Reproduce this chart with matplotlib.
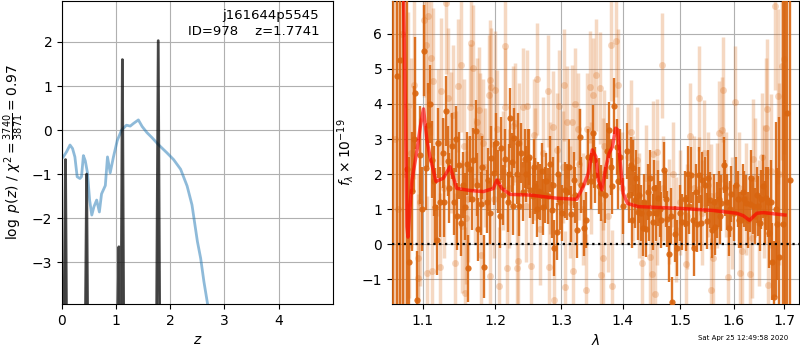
import numpy as np
import matplotlib
matplotlib.use('Agg')
import matplotlib.pyplot as plt
from matplotlib.ticker import FixedLocator, FixedFormatter, NullLocator

# --- p(z) panel ---
chi_z = [0.025, 0.086, 0.148, 0.195, 0.238, 0.28, 0.33, 0.36, 0.395, 0.43,
         0.47, 0.51, 0.55, 0.59, 0.64, 0.69, 0.73, 0.80, 0.84, 0.89,
         0.95, 1.02, 1.10, 1.19, 1.26, 1.32, 1.41, 1.48, 1.57, 1.66,
         1.78, 1.94, 2.06, 2.19, 2.31, 2.40, 2.50, 2.56, 2.62, 2.68, 2.72]
chi_val = [-0.61, -0.49, -0.34, -0.42, -0.61, -1.06, -1.10, -1.06, -0.58, -0.70,
           -0.97, -1.59, -1.93, -1.74, -1.59, -1.86, -1.45, -1.26, -0.61, -0.97,
           -0.61, -0.24, 0.0, 0.11, 0.09, 0.15, 0.23, 0.08, -0.06, -0.17,
           -0.33, -0.52, -0.67, -0.89, -1.27, -1.70, -2.53, -2.91, -3.44, -3.89, -4.2]

pz_z = [0.0, 0.035, 0.065, 0.085, 0.43, 0.455, 0.475, 1.025, 1.05, 1.07,
        1.09, 1.115, 1.14, 1.745, 1.777, 1.805]
pz_logp = [-3.9, -4.6, -0.67, -4.6, -4.6, -1.0, -4.6, -4.6, -2.65, -4.6,
           -4.6, 1.6, -4.6, -4.6, 2.03, -4.6]

# --- spectrum panel: model ---
model_wave = [1.0745, 1.0771, 1.0793, 1.0806, 1.0830, 1.0859, 1.0925, 1.0968, 1.1010, 1.1055,
              1.1096, 1.1177, 1.1276, 1.1367, 1.1460, 1.1646, 1.1834, 1.1978, 1.2027, 1.2099,
              1.2221, 1.2520, 1.2928, 1.3243, 1.3350, 1.3430, 1.3495, 1.3551, 1.3593, 1.3651,
              1.3717, 1.3773, 1.3825, 1.3879, 1.3915, 1.3951, 1.4005, 1.4080, 1.4264, 1.4997,
              1.5614, 1.6061, 1.6189, 1.6307, 1.6453, 1.6580, 1.7023]
model_flux = [7.5, 4.1, 0.5, 0.2, 1.0, 1.84, 2.69, 3.36, 3.86, 2.98,
              2.50, 1.79, 1.88, 2.21, 1.59, 1.53, 1.50, 1.59, 1.83, 1.59,
              1.42, 1.40, 1.31, 1.28, 1.65, 2.03, 2.69, 2.50, 1.83, 1.55,
              2.20, 2.60, 2.78, 3.31, 3.26, 2.41, 1.45, 1.16, 1.07, 1.02,
              0.96, 0.88, 0.81, 0.68, 0.88, 0.90, 0.83]

# --- combined (dark) spectrum ---
dark_wave = [1.0617, 1.0661, 1.0703, 1.0746, 1.0790, 1.0820, 1.0859, 1.0902, 1.0925, 1.0960,
             1.1014, 1.1041, 1.1073, 1.1119, 1.1166, 1.1184, 1.1235, 1.1267, 1.1308, 1.1336,
             1.1360, 1.1429, 1.1465, 1.1498, 1.1544, 1.1576, 1.1617, 1.1645, 1.1692, 1.1723,
             1.1761, 1.1797, 1.1838, 1.1880, 1.1907, 1.1949, 1.1986, 1.2041, 1.2071, 1.2090,
             1.2150, 1.2191, 1.2225, 1.2251, 1.2285, 1.2320, 1.2360, 1.2390, 1.2440, 1.2485,
             1.2525, 1.2560, 1.2600, 1.2641, 1.2675, 1.2716, 1.2765, 1.2800, 1.2851, 1.2890,
             1.2930, 1.2975, 1.3054, 1.3092, 1.3157, 1.3197, 1.3246, 1.3289, 1.3366, 1.3427,
             1.3502, 1.3546, 1.3600, 1.3640, 1.3694, 1.3732, 1.3776, 1.3825, 1.3858, 1.3895,
             1.3951, 1.4062, 1.4131, 1.4178, 1.4207, 1.4252, 1.4303, 1.4350, 1.4390, 1.4431,
             1.4471, 1.4510, 1.4562, 1.4614, 1.4666, 1.4717, 1.4759, 1.4803, 1.4862, 1.4941,
             1.5043, 1.5104, 1.5149, 1.5198, 1.5261, 1.5310, 1.5354, 1.5410, 1.5453, 1.5496,
             1.5547, 1.5597, 1.5640, 1.5683, 1.5720, 1.5765, 1.5813, 1.5869, 1.5907, 1.5951,
             1.6014, 1.6080, 1.6149, 1.6201, 1.6249, 1.6316, 1.6370, 1.6416, 1.6483, 1.6537,
             1.6583, 1.6638, 1.6704, 1.6753, 1.6799, 1.6853, 1.6905, 1.6974, 1.7020, 1.7071,
             1.7129,
             1.0880, 1.0990, 1.1095, 1.1145, 1.1210, 1.1290, 1.1395, 1.1450, 1.1520, 1.1600,
             1.1670, 1.1740, 1.1820, 1.1930, 1.2015, 1.2120, 1.2205, 1.2270, 1.2340, 1.2415,
             1.2460, 1.2505, 1.2580, 1.2620, 1.2700, 1.2740, 1.2825, 1.2870, 1.2950, 1.3010,
             1.3120, 1.3220, 1.3310, 1.3390, 1.3470, 1.3525, 1.3800, 1.3920, 1.4000, 1.4100,
             1.4160, 1.4230, 1.4280, 1.4370, 1.4450, 1.4540, 1.4640, 1.4740, 1.4830, 1.4900,
             1.4990, 1.5080, 1.5170, 1.5230, 1.5290, 1.5380, 1.5520, 1.5620, 1.5740, 1.5840,
             1.5930, 1.6050, 1.6110, 1.6180, 1.6280, 1.6340, 1.6450, 1.6510, 1.6610, 1.6670,
             1.6730, 1.6830]
dark_flux = [7.5, 4.81, 5.27, 9.0, 2.15, -0.5, 1.51, 4.31, -1.59, 2.55,
             5.52, 2.17, 3.41, 2.41, 1.07, 0.12, 1.19, 2.60, 3.79, 2.36,
             1.59, 1.21, 0.79, 2.25, 1.69, 1.07, -0.69, 2.14, 2.41, 3.22,
             0.43, 1.15, -0.64, 1.21, 1.84, 2.47, 2.02, 1.79, 0.79, 2.74,
             2.43, 1.21, 3.60, 2.33, 3.03, 2.00, 1.09, 2.60, 2.44, 2.43,
             1.55, 1.36, 1.67, 1.53, 1.50, 1.05, 1.79, 1.38, 0.98, -0.12,
             0.36, 1.21, 1.55, 1.48, 0.87, 1.84, 0.40, 3.07, 0.45, 2.50,
             3.17, 1.98, 1.65, 1.45, 1.41, 2.65, 3.27, 1.67, 3.93, 2.78,
             2.50, 2.65, 2.26, 2.17, 1.26, 0.93, 0.88, 0.45, 0.43, 1.50,
             1.88, 0.64, 0.88, 1.31, 0.69, 2.12, 0.71, -0.28, -1.64, -0.12,
             0.64, 0.61, 2.00, 1.98, -0.12, 0.57, 1.98, 1.84, 1.69, 0.67,
             1.26, 0.40, 0.50, 0.98, 1.28, 1.17, 2.26, 1.19, 0.45, 1.43,
             0.88, 1.28, 0.69, 1.28, 1.17, 1.15, 1.09, 0.79, 1.09, 1.28,
             1.65, 1.31, 0.31, -0.50, -1.50, 0.57, -0.37, 0.57, -2.00, 3.74,
             1.84,
             3.0, 1.0, 4.0, 1.8, 2.9, 1.2, 2.8, 3.0, 0.6, 2.3,
             1.3, 1.7, 2.2, 0.9, 2.9, 1.4, 2.0, 1.1, 2.9, 1.5,
             2.0, 2.5, 2.2, 1.0, 2.1, 1.4, 2.3, 1.7, 2.0, 0.9,
             2.2, 1.4, 1.7, 0.7, 1.8, 2.4, 2.2, 1.8, 1.1, 1.4,
             0.7, 1.9, 1.4, 1.2, 0.9, 1.6, 1.0, 1.3, 0.8, 0.3,
             0.9, 1.3, 1.1, 0.7, 1.5, 0.6, 1.9, 1.2, 0.8, 1.6,
             1.0, 1.7, 0.7, 1.5, 0.7, 1.9, 1.4, 0.6, 0.9, 1.2,
             1.2, 1.0]
dark_err = [15, 15, 15, 15, 6.0, 3.0, 1.7, 1.6, 1.4, 1.4,
            1.3, 1.2, 1.2, 1.1, 1.1, 1.0, 1.0, 1.0, 1.0, 1.0,
            1.0, 0.95, 0.95, 0.95, 0.95, 0.95, 0.95, 0.95, 0.9, 0.9,
            0.9, 0.9, 0.9, 0.9, 0.9, 0.9, 0.9, 0.9, 0.9, 0.9,
            0.85, 0.85, 0.85, 0.85, 0.85, 0.85, 0.85, 0.85, 0.85, 0.85,
            0.8, 0.8, 0.8, 0.8, 0.8, 0.8, 0.8, 0.8, 0.8, 0.8,
            0.8, 0.8, 0.8, 0.8, 0.8, 0.8, 0.8, 0.8, 0.8, 0.8,
            0.8, 0.8, 0.8, 0.8, 0.8, 0.8, 0.8, 0.8, 0.8, 0.8,
            0.8, 0.8, 0.8, 0.8, 0.8, 0.8, 0.8, 0.8, 0.8, 0.8,
            0.8, 0.8, 0.8, 0.8, 0.8, 0.8, 0.8, 0.8, 0.7, 0.8,
            0.8, 0.8, 0.8, 0.8, 0.8, 0.8, 0.8, 0.8, 0.8, 0.8,
            0.8, 0.8, 0.8, 0.8, 0.8, 0.8, 0.8, 0.8, 0.8, 0.8,
            0.8, 0.8, 0.8, 0.8, 0.8, 0.8, 0.8, 0.8, 0.85, 0.85,
            0.9, 0.9, 1.0, 1.1, 1.6, 1.6, 4.0, 8.0, 15, 15,
            15,
            1.5, 1.2, 1.1, 1.0, 1.0, 1.0, 0.95, 0.95, 0.95, 0.9,
            0.9, 0.9, 0.9, 0.9, 0.85, 0.85, 0.85, 0.85, 0.85, 0.85,
            0.8, 0.8, 0.8, 0.8, 0.8, 0.8, 0.8, 0.8, 0.8, 0.8,
            0.8, 0.8, 0.8, 0.8, 0.8, 0.8, 0.8, 0.8, 0.8, 0.8,
            0.8, 0.8, 0.8, 0.8, 0.8, 0.8, 0.8, 0.8, 0.8, 0.8,
            0.8, 0.8, 0.8, 0.8, 0.8, 0.8, 0.8, 0.8, 0.8, 0.8,
            0.8, 0.8, 0.8, 0.8, 0.8, 0.8, 0.8, 0.8, 0.9, 1.0,
            1.2, 2.5]

# --- individual beam (light) spectrum ---
light_wave = [1.0639, 1.0681, 1.0725, 1.0768,
              1.0802, 1.0823, 1.0850, 1.0881, 1.0934, 1.0938, 1.0970, 1.1014, 1.1041, 1.1059,
              1.1069, 1.1105, 1.1119, 1.1138, 1.1210, 1.1230, 1.1243, 1.1280, 1.1313, 1.1346,
              1.1380, 1.1409, 1.1443, 1.1450, 1.1479, 1.1520, 1.1530, 1.1560, 1.1581, 1.1589,
              1.1620, 1.1650, 1.1658, 1.1682, 1.1710, 1.1737, 1.1765, 1.1788, 1.1797, 1.1830,
              1.1860, 1.1913, 1.1924, 1.1935, 1.1949, 1.1980, 1.2000, 1.2026, 1.2060, 1.2110,
              1.2140, 1.2147, 1.2176, 1.2210, 1.2260, 1.2300, 1.2326, 1.2341, 1.2360, 1.2410,
              1.2460, 1.2476, 1.2536, 1.2585, 1.2590, 1.2620, 1.2675, 1.2710, 1.2785, 1.2815,
              1.2830, 1.2875, 1.2890, 1.2930, 1.2960, 1.3020, 1.3043, 1.3051, 1.3082, 1.3130,
              1.3174, 1.3190, 1.3218, 1.3262, 1.3280, 1.3350, 1.3394, 1.3410, 1.3464, 1.3470,
              1.3502, 1.3558, 1.3623, 1.3631, 1.3670, 1.3677, 1.3686, 1.3750, 1.3804, 1.3813,
              1.3879, 1.3912, 1.3980, 1.4090, 1.4138, 1.4180, 1.4234, 1.4280, 1.4321, 1.4400,
              1.4465, 1.4505, 1.4522, 1.4552, 1.4580, 1.4596, 1.4683, 1.4700, 1.4793, 1.4880,
              1.4924, 1.5000, 1.5104, 1.5130, 1.5187, 1.5250, 1.5341, 1.5354, 1.5400, 1.5435,
              1.5520, 1.5560, 1.5566, 1.5609, 1.5680, 1.5720, 1.5784, 1.5795, 1.5850, 1.5888,
              1.5970, 1.6034, 1.6100, 1.6129, 1.6169, 1.6230, 1.6316, 1.6350, 1.6370, 1.6420,
              1.6500, 1.6551, 1.6600, 1.6632, 1.6652, 1.6678, 1.6733, 1.6820, 1.6886, 1.6900,
              1.6966, 1.7000]
light_flux = [3.0, 1.0, 6.0, 2.0,
              3.93, 1.17, 2.60, 4.55, -0.40, -0.97, 1.20, 6.39, 5.69, -0.83,
              6.52, 5.31, -0.78, 4.65, 2.90, -0.64, 4.36, 1.60, 6.87, 4.17,
              2.90, 3.69, -0.55, 1.90, 4.52, 5.11, 0.51, 2.80, -1.40, 0.75,
              1.30, 3.91, 5.74, 5.03, 1.80, 3.50, 3.83, 3.09, -0.31, 2.90,
              2.20, 4.27, -0.90, 4.69, 4.48, 1.30, 4.39, 3.28, -1.21, 2.10,
              5.66, 3.91, -0.69, 1.60, 3.38, 3.47, -0.69, -0.47, 2.90, 3.91,
              1.10, 3.95, -0.62, 3.12, 2.30, 4.71, 0.43, 2.60, 4.36, -0.64,
              1.90, 3.34, -1.59, 2.70, 3.93, 2.20, 4.55, -1.23, 3.48, 1.20,
              3.50, -0.78, 4.01, 3.28, 2.30, 1.00, -1.32, 3.28, 4.48, 1.90,
              4.27, 4.84, 4.46, -0.88, 2.00, -0.40, 2.81, 0.80, 5.69, -1.19,
              5.79, 4.55, 1.60, 2.50, 3.19, 1.60, 2.41, 1.10, -0.55, 1.90,
              -0.36, -0.85, 2.58, -1.42, 0.90, 2.64, 5.11, 1.60, 0.93, 2.00,
              0.41, 1.20, -0.57, 0.80, 3.09, 1.60, 4.17, 1.57, 0.90, 2.60,
              1.70, -1.32, 1.36, -0.40, 1.40, 3.17, 3.26, 4.41, 1.70, -0.93,
              0.90, 4.05, 1.60, -0.83, -0.21, 1.30, -0.85, 0.17, 2.43, 1.90,
              0.60, 2.50, 1.50, 3.31, 3.86, -1.16, 2.08, 6.79, 4.22, 2.00,
              5.09, 5.28]
light_err = [12, 12, 12, 12,
             2.7, 2.7, 2.7, 2.7, 2.4, 2.4, 2.4, 2.2, 2.2, 2.2,
             2.2, 2.2, 2.1, 2.1, 2.1, 2.1, 2.1, 2.0, 2.0, 2.0,
             2.0, 2.0, 2.0, 1.9, 1.9, 1.9, 1.9, 1.9, 1.9, 1.9,
             1.8, 1.8, 1.8, 1.8, 1.8, 1.8, 1.8, 1.8, 1.8, 1.8,
             1.7, 1.7, 1.7, 1.7, 1.7, 1.7, 1.7, 1.7, 1.7, 1.7,
             1.7, 1.7, 1.7, 1.7, 1.7, 1.7, 1.7, 1.7, 1.7, 1.7,
             1.6, 1.6, 1.6, 1.6, 1.6, 1.6, 1.6, 1.6, 1.6, 1.6,
             1.6, 1.6, 1.6, 1.6, 1.6, 1.6, 1.6, 1.6, 1.6, 1.6,
             1.6, 1.6, 1.6, 1.6, 1.6, 1.6, 1.6, 1.6, 1.6, 1.6,
             1.6, 1.6, 1.6, 1.6, 1.6, 1.6, 1.6, 1.6, 1.6, 1.6,
             1.6, 1.6, 1.6, 1.5, 1.5, 1.5, 1.5, 1.5, 1.5, 1.5,
             1.5, 1.5, 1.5, 1.5, 1.5, 1.5, 1.5, 1.5, 1.5, 1.5,
             1.5, 1.5, 1.5, 1.5, 1.5, 1.5, 1.5, 1.5, 1.5, 1.5,
             1.5, 1.5, 1.5, 1.5, 1.5, 1.5, 1.5, 1.5, 1.5, 1.5,
             1.6, 1.6, 1.6, 1.6, 1.6, 1.6, 1.7, 1.7, 1.7, 1.7,
             1.8, 1.8, 1.9, 2.0, 2.0, 2.1, 2.2, 2.4, 2.5, 2.6,
             2.7, 2.7]

lam_ticks = [1.1, 1.2, 1.3, 1.4, 1.5, 1.6, 1.7]
orange = '#d9650f'

fig = plt.figure(figsize=(8, 3.5), dpi=100)
ax1 = fig.add_axes([0.0775, 0.1314, 0.3385, 0.8657])
ax2 = fig.add_axes([0.49, 0.1314, 0.5087, 0.8657])

# left: chi2 curve + p(z)
ax1.plot(chi_z, chi_val, color='#1f77b4', alpha=0.5, lw=2)
ax1.plot(pz_z, pz_logp, color='k', alpha=0.7, lw=2)
ax1.fill_between(pz_z, pz_logp, -10, color='k', alpha=0.1)
ax1.set_xlim(0, 5.0)
ax1.set_ylim(-3.95, 2.93)
ax1.set_xticks([0, 1, 2, 3, 4])
ax1.set_yticks([-3, -2, -1, 0, 1, 2])
ax1.grid(True)
ax1.set_xlabel(r'$z$')
ax1.set_ylabel(r'$\log\ p(z)$ / $\chi^2=\frac{3740}{3871}=0.97$')
ax1.text(0.95, 0.975, 'j161644p5545\nID=978    z=1.7741', transform=ax1.transAxes,
         ha='right', va='top', fontsize=9.5, linespacing=1.3)

# right: spectrum
ax2.errorbar(light_wave, light_flux, yerr=light_err, fmt='o', color=orange,
             alpha=0.25, ms=5, elinewidth=2.5, mew=0, zorder=2)
ax2.errorbar(dark_wave, dark_flux, yerr=dark_err, fmt='o', color=orange,
             alpha=0.9, ms=4.5, elinewidth=1.7, mew=0, zorder=3)
ax2.plot(model_wave, model_flux, color='r', alpha=0.65, lw=2.5, zorder=4)
ax2.axhline(0, color='k', ls=':', lw=1.6, zorder=5)
ax2.set_xscale('log')
ax2.set_xlim(1.06, 1.731)
ax2.set_ylim(-1.71, 6.94)
ax2.xaxis.set_major_locator(FixedLocator(lam_ticks))
ax2.xaxis.set_major_formatter(FixedFormatter([f'{t:.1f}' for t in lam_ticks]))
ax2.xaxis.set_minor_locator(NullLocator())
ax2.set_yticks([-1, 0, 1, 2, 3, 4, 5, 6])
ax2.grid(True)
ax2.set_xlabel(r'$\lambda$')
ax2.set_ylabel(r'$f_\lambda\times10^{-19}$')

fig.text(0.985, 0.025, 'Sat Apr 25 12:49:58 2020', ha='right', va='bottom', fontsize=5)

fig.savefig('out.png', dpi=100)
